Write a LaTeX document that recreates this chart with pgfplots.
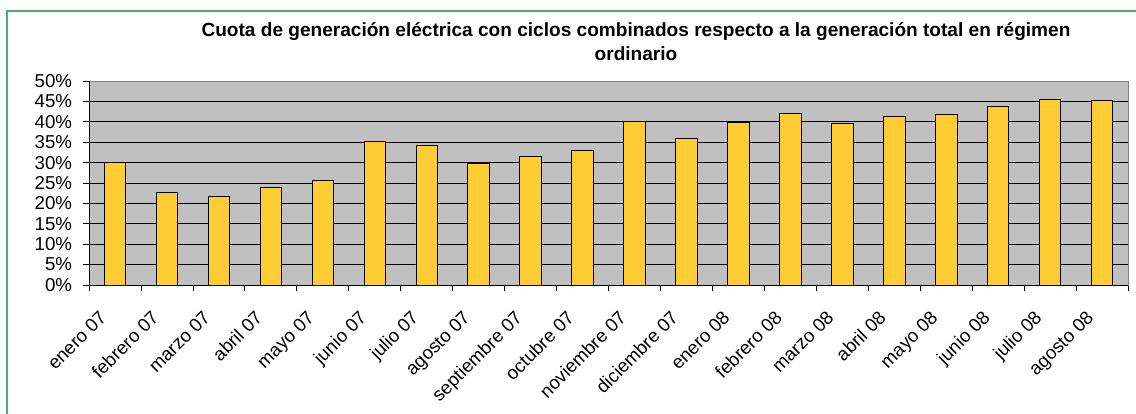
\documentclass[border=0pt]{standalone}
\usepackage{pgfplots}
\pgfplotsset{compat=1.18}
\usepackage{fontspec}
\setmainfont{Liberation Sans}
\definecolor{barfill}{RGB}{255,204,51}
\definecolor{plotbg}{RGB}{192,192,192}
\definecolor{frameg}{RGB}{77,170,120}
\definecolor{boxgray}{RGB}{128,128,128}

\begin{document}
\begin{tikzpicture}
% page is 1136 x 414 px, 1 px = 0.75pt
\path[use as bounding box] (0pt,0pt) rectangle (852pt,310.5pt);
\draw[frameg, line width=1.4pt] (852pt,302.25pt) -- (5.25pt,302.25pt) -- (5.25pt,0pt);

\node[anchor=base, font=\bfseries\fontsize{14.3}{16}\selectfont] at (477pt,282.75pt)
  {Cuota de generación eléctrica con ciclos combinados respecto a la generación total en régimen};
\node[anchor=base, font=\bfseries\fontsize{14.3}{16}\selectfont] at (477pt,264.75pt) {ordinario};

\begin{axis}[
    name=ax,
    at={(66.75pt,96.75pt)}, anchor=south west,
    scale only axis, width=779.25pt, height=153pt,
    xmin=0.5, xmax=20.5, ymin=0, ymax=50,
    axis background/.style={fill=plotbg},
    axis line style={draw=boxgray, line width=0.6pt},
    xtick={1,...,20},
    xticklabels={enero 07, febrero 07, marzo 07, abril 07, mayo 07, junio 07, julio 07,
      agosto 07, septiembre 07, octubre 07, noviembre 07, diciembre 07, enero 08,
      febrero 08, marzo 08, abril 08, mayo 08, junio 08, julio 08, agosto 08},
    minor xtick={0.5,1.5,...,20.5},
    major x tick style={draw=none},
    minor x tick style={black, line width=0.6pt},
    minor tick length=4.5pt,
    ytick={0,5,...,50},
    yticklabel={\pgfmathprintnumber{\tick}\%},
    major y tick style={black, line width=0.6pt},
    major tick length=4.5pt,
    tick align=outside, xtick pos=bottom, ytick pos=left,
    ymajorgrids, major grid style={black, line width=0.6pt},
    tick label style={font=\fontsize{14}{16}\selectfont},
    yticklabel style={anchor=east, inner sep=0pt, xshift=-8pt},
    % shifts act in the rotated frame of the label
    xticklabel style={rotate=45, anchor=north east, inner sep=0pt, xshift=-18.5pt, yshift=-0.7pt},
    /pgf/number format/assume math mode=true,
]
\addplot[ybar, bar width=16.1pt, fill=barfill, draw=black, line width=0.6pt]
  coordinates {
    (1,30.1) (2,22.7) (3,21.6) (4,23.9) (5,25.7)
    (6,35.2) (7,34.2) (8,29.7) (9,31.6) (10,33.1)
    (11,40.2) (12,35.9) (13,39.9) (14,42.0) (15,39.7)
    (16,41.3) (17,41.7) (18,43.7) (19,45.5) (20,45.2)
  };
\end{axis}
\draw[black, line width=0.6pt] (ax.north west) -- (ax.south west) -- (ax.south east);
\end{tikzpicture}
\end{document}
